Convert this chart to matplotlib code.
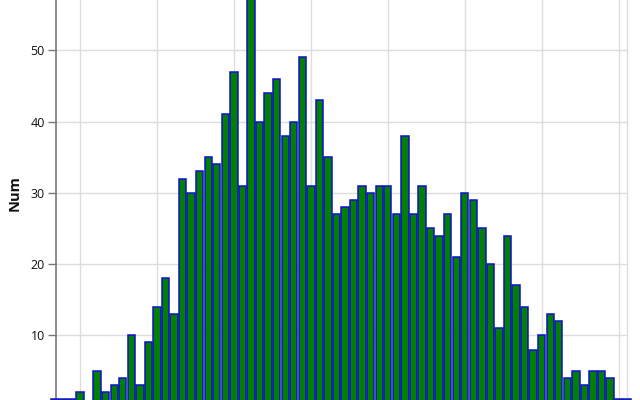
import matplotlib
matplotlib.use("Agg")
import matplotlib.pyplot as plt
import numpy as np

# Data (bar index -> count)
bins = list(range(68))
counts = [1, 1, 1, 2, 0, 5, 2, 3, 4, 10, 3, 9, 14, 18, 13, 32, 30, 33, 35, 34,
          41, 47, 31, 58, 40, 44, 46, 38, 40, 49, 31, 43, 35, 27, 28, 29, 31,
          30, 31, 31, 27, 38, 27, 31, 25, 24, 27, 21, 30, 29, 25, 20, 11, 24,
          17, 14, 8, 10, 13, 12, 4, 5, 3, 5, 5, 4, 1, 1]
x_grid = [3, 12, 21, 30, 39, 48, 57, 66]
y_ticks = [10, 20, 30, 40, 50]
y_label = "Num"

plt.rcParams['font.family'] = ['Open Sans', 'DejaVu Sans']

W, H = 640, 400
fig = plt.figure(figsize=(6.4, 4.0), dpi=100)
left_px, right_px = 56, 627
top_px, zero_px = 0, 406.6
ax = fig.add_axes([left_px / W, 1 - zero_px / H, (right_px - left_px) / W,
                   (zero_px - top_px) / H])

bars = ax.bar(bins, counts, width=0.86, color='#007f00', edgecolor='#1010d0',
              linewidth=1.1, zorder=3)
for b in bars:
    b.set_clip_on(False)

ax.set_xlim(0.19, 66.98)
ax.set_ylim(0, 57.05)
ax.set_xticks(x_grid)
ax.set_yticks(y_ticks)
ax.tick_params(axis='x', bottom=False, labelbottom=False)
ax.tick_params(axis='y', length=6, width=1, color='#777777', labelsize=9,
               labelcolor='#111111', pad=2)
ax.grid(True, color='#dddddd', linewidth=1, zorder=0)
ax.set_axisbelow(True)

for s in ['top', 'bottom']:
    ax.spines[s].set_visible(False)
ax.spines['left'].set_color('#777777')
ax.spines['left'].set_linewidth(1.2)
ax.spines['right'].set_color('#dddddd')
ax.spines['right'].set_linewidth(1)

fig.text(15 / W, 1 - 193 / H, y_label, rotation=90, fontsize=10.5,
         fontweight='bold', ha='center', va='center', color='#111111')

fig.savefig("out.png", dpi=100)
